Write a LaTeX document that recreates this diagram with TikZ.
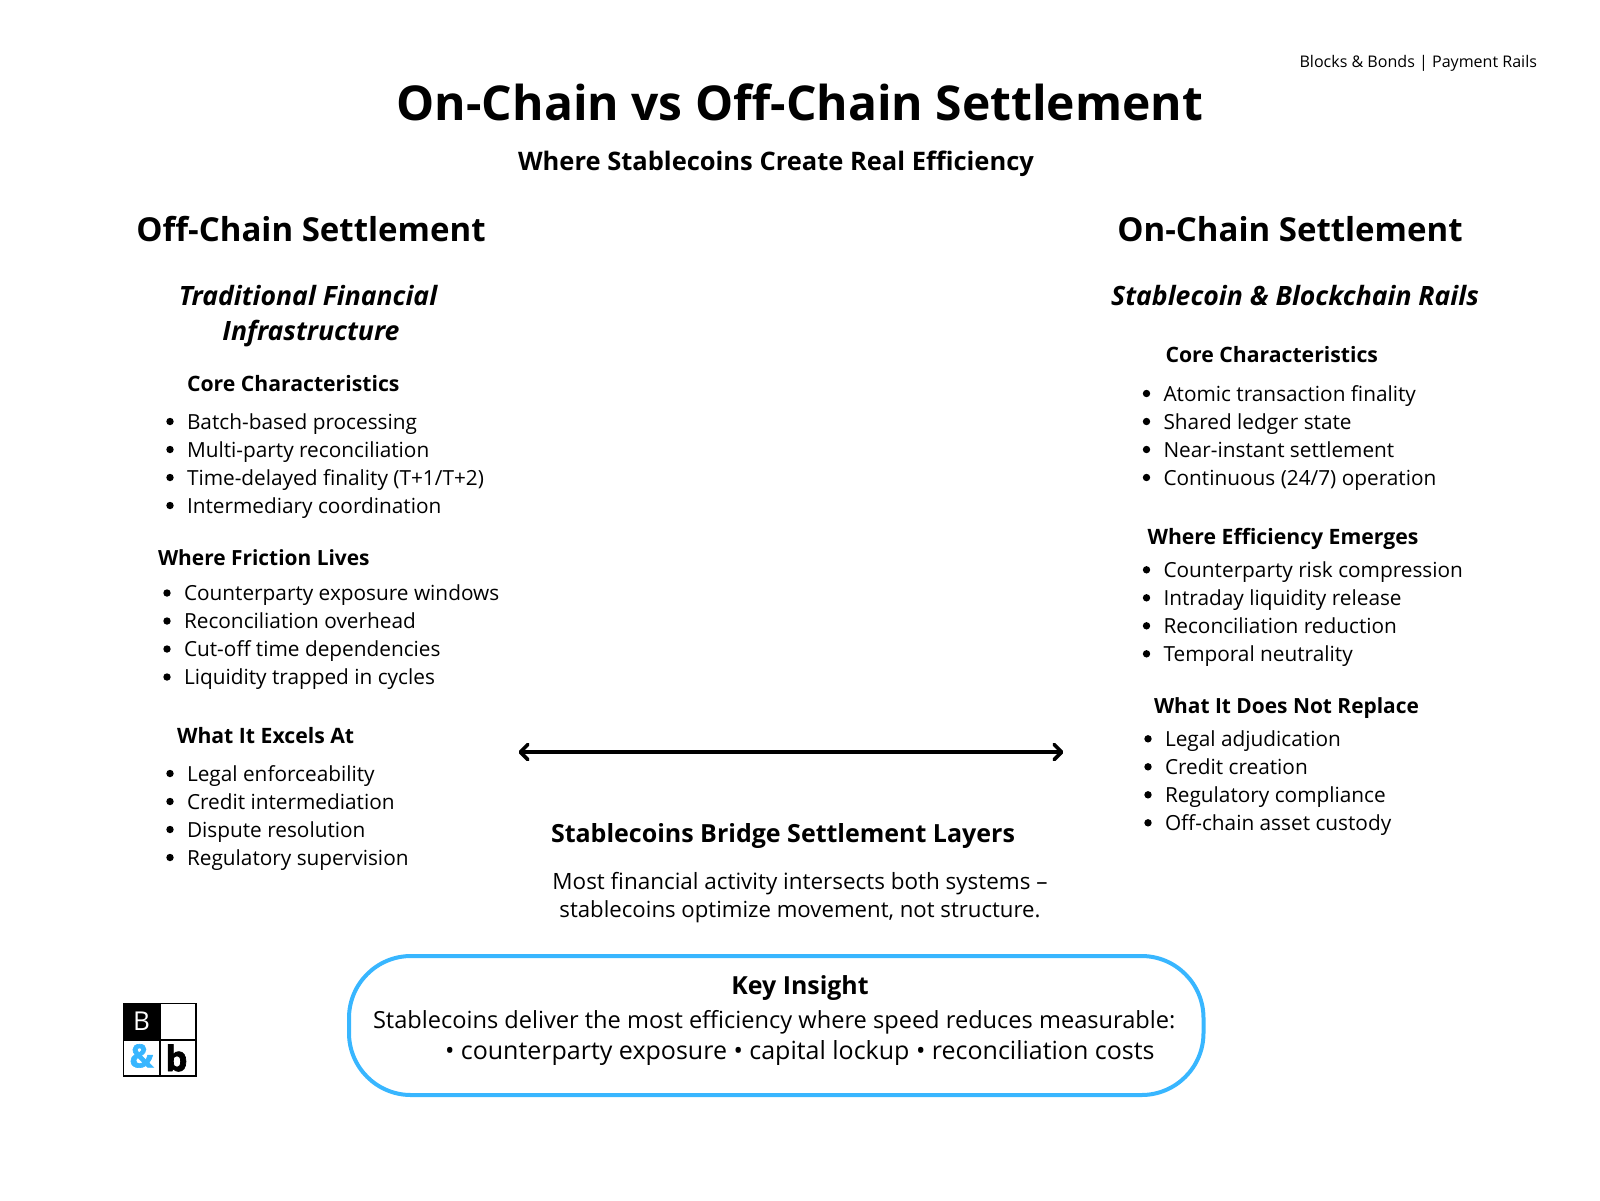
\documentclass[tikz,border=0pt]{standalone}
\usepackage{fontspec}
\usetikzlibrary{arrows.meta}
\setmainfont{Open Sans}
\definecolor{skyb}{HTML}{38B6FF}
\newcommand{\bl}[1]{\makebox[0pt][r]{\raisebox{3.8pt}{\tikz\fill[black] (0pt,0pt) circle[radius=3.7pt];}\hspace{13.3pt}}#1}
\tikzset{
 txt/.style={anchor=base west,inner sep=0pt,outer sep=0pt,text=black},
 ctr/.style={anchor=base,inner sep=0pt,outer sep=0pt,text=black,align=center},
 item/.style={txt,font=\fontsize{20.8}{20.8}\selectfont},
 head/.style={txt,font=\fontsize{21.2}{21.2}\selectfont\bfseries},
 colhead/.style={ctr,font=\fontsize{33}{33}\selectfont\bfseries},
 subhead/.style={ctr,font=\fontsize{26.6}{26.6}\selectfont\bfseries\itshape},
 cell/.style={draw=black,line width=1.8pt,minimum size=36.3pt,inner sep=0pt,outer sep=0pt,anchor=north west},
 wideTip/.tip={Straight Barb[length=7.5pt,width=15pt,line cap=round,line join=round]},
}
\begin{document}
\begin{tikzpicture}[x=1pt,y=-1pt]
\useasboundingbox (0,0) rectangle (1600,1200);
\node[txt,anchor=base east,font=\fontsize{16.05}{16}\selectfont] (tag) at (1537,67) {Blocks \& Bonds | Payment Rails};
\node[ctr,font=\fontsize{48}{48}\selectfont\bfseries] (title) at (800,120) {On-Chain vs Off-Chain Settlement};
\node[ctr,font=\fontsize{25.5}{25.5}\selectfont\bfseries] (subtitle) at (776,170) {Where Stablecoins Create Real Efficiency};

\node[colhead] (offh) at (311,241) {Off-Chain Settlement};
\node[subhead] (offs1) at (308,305) {Traditional Financial};
\node[subhead] (offs2) at (311,340) {Infrastructure};
\node[head] (o1) at (187,391) {Core Characteristics};
\node[item] (o1a) at (187,429) {\bl{Batch-based processing}};
\node[item] (o1b) at (187,457) {\bl{Multi-party reconciliation}};
\node[item] (o1c) at (187,485) {\bl{Time-delayed finality (T+1/T+2)}};
\node[item] (o1d) at (187,513) {\bl{Intermediary coordination}};
\node[head,font=\fontsize{20.9}{20.9}\selectfont\bfseries] (o2) at (158,565) {Where Friction Lives};
\node[item] (o2a) at (184,600.5) {\bl{Counterparty exposure windows}};
\node[item] (o2b) at (184,628.5) {\bl{Reconciliation overhead}};
\node[item] (o2c) at (184,656.5) {\bl{Cut-off time dependencies}};
\node[item] (o2d) at (184,684.5) {\bl{Liquidity trapped in cycles}};
\node[head] (o3) at (177,743) {What It Excels At};
\node[item] (o3a) at (187,781) {\bl{Legal enforceability}};
\node[item] (o3b) at (187,809) {\bl{Credit intermediation}};
\node[item] (o3c) at (187,837) {\bl{Dispute resolution}};
\node[item] (o3d) at (187,865) {\bl{Regulatory supervision}};

\node[colhead] (onh) at (1290,241) {On-Chain Settlement};
\node[subhead] (ons) at (1295,305) {Stablecoin \& Blockchain Rails};
\node[head] (n1) at (1165.5,362) {Core Characteristics};
\node[item] (n1a) at (1163.5,401) {\bl{Atomic transaction finality}};
\node[item] (n1b) at (1163.5,429) {\bl{Shared ledger state}};
\node[item] (n1c) at (1163.5,457) {\bl{Near-instant settlement}};
\node[item] (n1d) at (1163.5,485) {\bl{Continuous (24/7) operation}};
\node[head] (n2) at (1147.5,544) {Where Efficiency Emerges};
\node[item] (n2a) at (1163.5,577.3) {\bl{Counterparty risk compression}};
\node[item] (n2b) at (1163.5,605.3) {\bl{Intraday liquidity release}};
\node[item] (n2c) at (1163.5,633.3) {\bl{Reconciliation reduction}};
\node[item] (n2d) at (1163.5,661.3) {\bl{Temporal neutrality}};
\node[head,font=\fontsize{20.9}{20.9}\selectfont\bfseries] (n3) at (1154,713) {What It Does Not Replace};
\node[item] (n3a) at (1165,746.3) {\bl{Legal adjudication}};
\node[item] (n3b) at (1165,774.3) {\bl{Credit creation}};
\node[item] (n3c) at (1165,802.3) {\bl{Regulatory compliance}};
\node[item] (n3d) at (1165,830.3) {\bl{Off-chain asset custody}};

\coordinate (al) at (518.5,752);
\coordinate (ar) at (1063.5,752);
\draw[line width=3.6pt,line cap=round,{wideTip}-{wideTip}] (al) -- (ar);

\node[ctr,font=\fontsize{25}{25}\selectfont\bfseries] (bridge) at (783,842) {Stablecoins Bridge Settlement Layers};
\node[ctr,font=\fontsize{22.45}{22.45}\selectfont] (b1) at (800,889) {Most financial activity intersects both systems –};
\node[ctr,font=\fontsize{22.2}{22.2}\selectfont] (b2) at (800,917) {stablecoins optimize movement, not structure.};

\draw[draw=skyb,line width=4pt,rounded corners=62pt] (349,956) rectangle (1203.5,1095);
\node[ctr,font=\fontsize{24.9}{24.9}\selectfont\bfseries] (key) at (800,994) {Key Insight};
\node[txt,font=\fontsize{23.6}{23.6}\selectfont] (k1) at (373,1028) {Stablecoins deliver the most efficiency where speed reduces measurable:};
\node[txt,font=\fontsize{25}{25}\selectfont] (k2) at (445,1059) {• counterparty exposure • capital lockup • reconciliation costs};

\node[cell,fill=black] (lb) at (123.5,1003.5) {};
\node[cell] (le) at (159.8,1003.5) {};
\node[cell] (la) at (123.5,1039.8) {};
\node[cell] (lbb) at (159.8,1039.8) {};
\node[text=white,font=\fontsize{26}{26}\selectfont,inner sep=0pt] (lbt) at (lb.center) {B};
\node[text=skyb,font=\fontsize{32}{32}\selectfont\bfseries\addfontfeature{FakeBold=2},inner sep=0pt,yshift=2pt] (lat) at (la.center) {\&};
\node[text=black,font=\fontsize{35}{35}\selectfont\bfseries\addfontfeature{FakeBold=2},inner sep=0pt,xshift=-1.5pt] (lbbt) at (lbb.center) {b};
\end{tikzpicture}
\end{document}
